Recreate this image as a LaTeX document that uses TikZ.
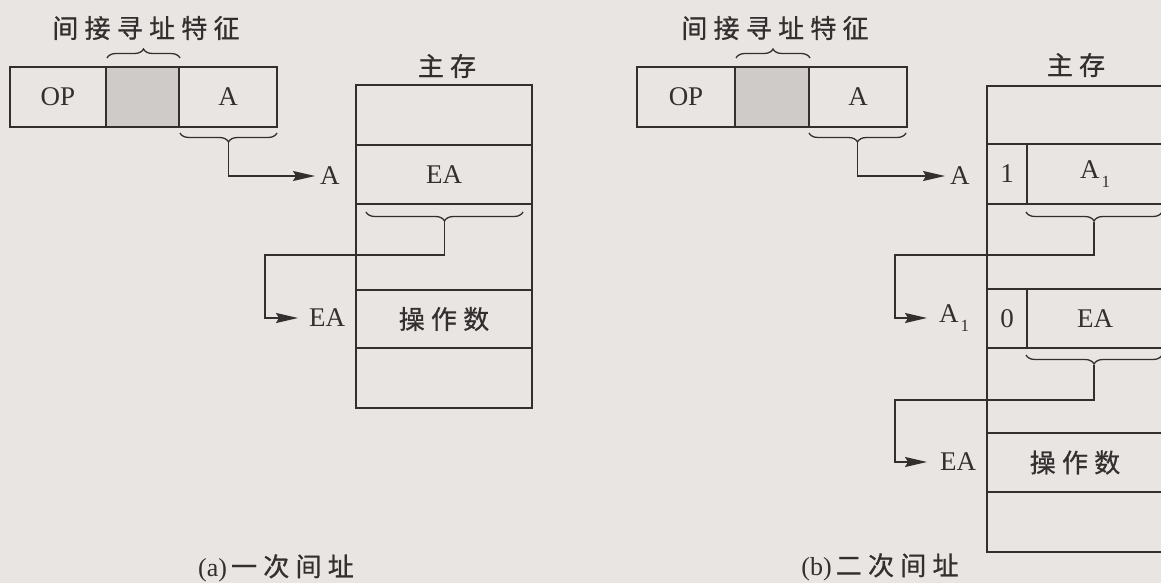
\documentclass[tikz,border=0pt]{standalone}
\usepackage{fontspec}
\setmainfont{Liberation Serif}
\newfontfamily\cjk{Noto Sans CJK SC}[LetterSpace=24, FakeBold=0.8]
\usetikzlibrary{arrows.meta,decorations.pathreplacing}
\definecolor{bg}{RGB}{233,229,226}
\definecolor{ink}{RGB}{52,47,47}
\definecolor{shade}{RGB}{206,203,201}
\tikzset{
  cell/.style={draw=ink, line width=2.9pt, inner sep=0pt, text=ink,
    font=\fontsize{27}{27}\selectfont},
  lab/.style={inner sep=0pt, text=ink, font=\fontsize{27}{27}\selectfont},
  cjklab/.style={inner sep=0pt, text=ink, font=\fontsize{26}{26}\selectfont\cjk},
  conn/.style={draw=ink, line width=1.6pt},
  arr/.style={conn, -{Stealth[length=22pt,width=10pt,inset=3pt]}},
  brc/.style={draw=ink, line width=1.3pt, decorate,
    decoration={brace, amplitude=9pt, aspect=0.5}},
}
\begin{document}
\begin{tikzpicture}[x=1pt,y=-1pt]
\fill[bg] (0,0) rectangle (1161,583);
\useasboundingbox (0,0) rectangle (1161,583);
\clip (0,0) rectangle (1161,583);

% ================= (a) =================
\node[cjklab] (ta) at (146,28) {间接寻址特征};
\node[cell, minimum width=96pt, minimum height=60pt] (aop) at (58,97) {OP};
\node[cell, fill=shade, minimum width=73pt, minimum height=60pt] (ai) at (142.5,97) {};
\node[cell, minimum width=98pt, minimum height=60pt] (aa) at (228,97) {A};
\draw[brc] (107,58) -- (180,58);
\draw[brc] (277,133) -- (180,133);
\coordinate (atip1) at (228.5,143);

\node[cjklab] (amem) at (447,66) {主存};
\node[cell, minimum width=176pt, minimum height=60pt] (am1) at (444,115) {};
\node[cell, minimum width=176pt, minimum height=59pt] (am2) at (444,174.5) {EA};
\node[cell, minimum width=176pt, minimum height=86pt] (am3) at (444,247) {};
\node[cell, minimum width=176pt, minimum height=58pt, font=\fontsize{26}{26}\selectfont\cjk] (am4) at (444,319) {操作数};
\node[cell, minimum width=176pt, minimum height=60pt] (am5) at (444,378) {};
\draw[brc] (523,212) -- (366,212);
\coordinate (atip2) at (444.5,222);

\node[lab, anchor=west] (alA) at (320,176) {A};
\node[lab, anchor=west] (alEA) at (309,318) {EA};
\draw[arr, shorten >=5pt] (atip1) |- (alA.west);
\draw[arr, shorten >=11pt] (atip2) |- (265,255) |- (alEA.west);

\node[lab, font=\fontsize{26}{26}\selectfont] (capa) at (276,568) {(a)\hspace{4pt}{\cjk 一次间址}};

% ================= (b) =================
\node[cjklab] (tb) at (775,28) {间接寻址特征};
\node[cell, minimum width=98pt, minimum height=60pt] (bop) at (686,97) {OP};
\node[cell, fill=shade, minimum width=74pt, minimum height=60pt] (bi) at (772,97) {};
\node[cell, minimum width=98pt, minimum height=60pt] (ba) at (858,97) {A};
\draw[brc] (736,58) -- (810,58);
\draw[brc] (906,133) -- (809,133);
\coordinate (btip1) at (857.5,143);

\node[cjklab] (bmem) at (1076,65) {主存};
\node[cell, minimum width=176pt, minimum height=58pt] (bm1) at (1075,115) {};
\node[cell, minimum width=40pt, minimum height=60pt] (bm2f) at (1007,174) {1};
\node[cell, minimum width=136pt, minimum height=60pt] (bm2v) at (1095,174) {A\raisebox{-0.32em}{\fontsize{17}{17}\selectfont\hspace{2pt}1}};
\node[cell, minimum width=176pt, minimum height=85pt] (bm3) at (1075,246.5) {};
\node[cell, minimum width=40pt, minimum height=59pt] (bm4f) at (1007,318.5) {0};
\node[cell, minimum width=136pt, minimum height=59pt] (bm4v) at (1095,318.5) {EA};
\node[cell, minimum width=176pt, minimum height=85pt] (bm5) at (1075,390.5) {};
\node[cell, minimum width=176pt, minimum height=59pt, font=\fontsize{26}{26}\selectfont\cjk] (bm6) at (1075,462.5) {操作数};
\node[cell, minimum width=176pt, minimum height=60pt] (bm7) at (1075,522) {};
\draw[brc] (1162,212) -- (1026,212);
\coordinate (btip2) at (1094,222);
\draw[brc] (1162,355) -- (1026,355);
\coordinate (btip3) at (1094,365);

\node[lab, anchor=west] (blA) at (950,176) {A};
\node[lab, anchor=west] (blA1) at (939,318) {A\raisebox{-0.32em}{\fontsize{17}{17}\selectfont\hspace{2pt}1}};
\node[lab, anchor=west] (blEA) at (940,462) {EA};
\draw[arr, shorten >=5pt] (btip1) |- (blA.west);
\draw[arr, shorten >=12pt] (btip2) |- (895,255) |- (blA1.west);
\draw[arr, shorten >=13pt] (btip3) |- (895,400) |- (blEA.west);

\node[lab, font=\fontsize{26}{26}\selectfont] (capb) at (880,567) {(b)\hspace{4pt}{\cjk 二次间址}};
\end{tikzpicture}
\end{document}
